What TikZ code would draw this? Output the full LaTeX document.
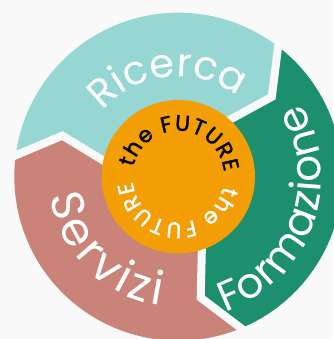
\documentclass[tikz,border=0pt]{standalone}
\usepackage{fontspec}
\setmainfont{Poppins}
\newfontfamily\futurefamily{Poppins}[FakeBold=1.6]
\usetikzlibrary{decorations.text}

\definecolor{paper}{HTML}{F9F9F9}
\definecolor{ricercacol}{HTML}{96D7D3}
\definecolor{formazionecol}{HTML}{1C8F6E}
\definecolor{servizicol}{HTML}{C98378}
\definecolor{futurecol}{HTML}{F39E05}

\newcommand{\wordfont}{\fontsize{46}{46}\selectfont}
\newcommand{\longwordfont}{\fontsize{42}{42}\selectfont}
\newcommand{\smallwordfont}{\fontsize{40}{40}\selectfont}
\newcommand{\futurefont}{\futurefamily\fontsize{22}{22}\selectfont}

\begin{document}
\begin{tikzpicture}[x=1pt, y=1pt,
    gap/.style={draw=paper, line width=8pt, line join=miter, shorten <=-10pt, shorten >=-4pt},
    curvedword/.style={decorate, decoration={text along path, text align={fit to path}, text color=white, text={#1}}}]

    % page
    \fill[paper] (-178.3,-162.3) rectangle (154.7,176.7);
    \useasboundingbox (-178.3,-162.3) rectangle (154.7,176.7);

    % three arrow sectors
    \foreach \a/\col in {172.5/ricercacol, 52.5/formazionecol, -67.5/servizicol}
        \fill[\col] (\a:164) arc[start angle=\a, end angle=\a-120, radius=164]
            -- ({\a-132}:123) -- ({\a-121}:65) -- (0,0) -- ({\a-1}:65) -- ({\a-12}:123) -- cycle;

    % white gaps between them
    \foreach \a in {172.5, 52.5, -67.5}
        \draw[gap] (\a:164) -- ({\a-12}:123) -- ({\a-1}:65);

    % centre disc
    \fill[futurecol] (0,0) circle[radius=76.7];

    % words on the ring
    \path[curvedword={|\smallwordfont|Ricerca}] (139:100) arc[start angle=139, end angle=60, radius=100];
    \path[curvedword={|\longwordfont|Formazione}] (-71:143) arc[start angle=-71, end angle=31, radius=143];
    \path[curvedword={|\wordfont|Servizi}] (188.7:130) arc[start angle=188.7, end angle=262.3, radius=130];

    % the future, twice round the disc
    \path[decorate, decoration={text along path, text align={fit to path}, text={|\futurefont|the FUTURE}}]
        (168:46) arc[start angle=168, end angle=6, radius=46];
    \path[curvedword={|\futurefont|the FUTURE}]
        (-12:46) arc[start angle=-12, end angle=-174, radius=46];

\end{tikzpicture}
\end{document}
